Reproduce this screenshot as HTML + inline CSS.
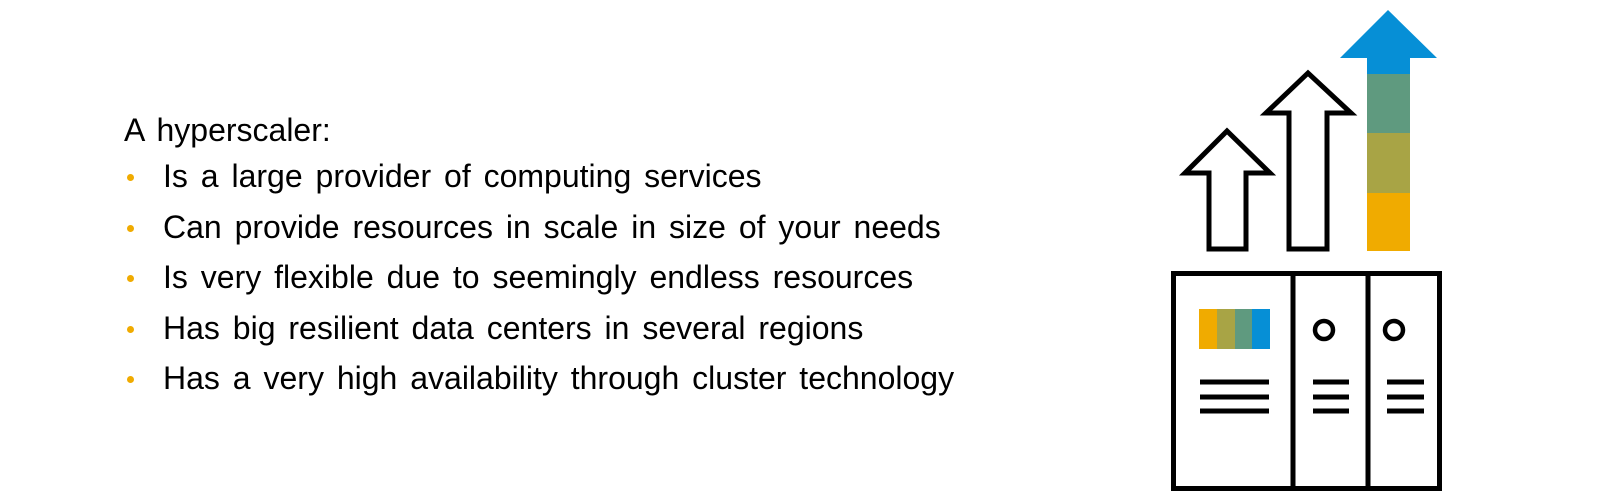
<!DOCTYPE html>
<html><head><meta charset="utf-8"><style>
html,body{margin:0;padding:0;background:#fff;}
body{width:1600px;height:501px;position:relative;overflow:hidden;font-family:"Liberation Sans",Arial,sans-serif;color:#000;}
.t{position:absolute;font-size:32px;white-space:nowrap;line-height:1;word-spacing:4px;}
.b{position:absolute;width:7px;height:7px;border-radius:50%;background:#f0ab00;}
</style></head><body>
<div class="t" style="left:124px;top:114px">A hyperscaler:</div>
<div class="b" style="left:127px;top:174px"></div><div class="t" style="left:163px;top:160px">Is a large provider of computing services</div>
<div class="b" style="left:127px;top:225px"></div><div class="t" style="left:163px;top:211px">Can provide resources in scale in size of your needs</div>
<div class="b" style="left:127px;top:275px"></div><div class="t" style="left:163px;top:261px">Is very flexible due to seemingly endless resources</div>
<div class="b" style="left:127px;top:326px"></div><div class="t" style="left:163px;top:312px">Has big resilient data centers in several regions</div>
<div class="b" style="left:127px;top:376px"></div><div class="t" style="left:163px;top:362px">Has a very high availability through cluster technology</div>
<svg width="1600" height="501" style="position:absolute;left:0;top:0">
<g fill="none" stroke="#000" stroke-width="5" stroke-linejoin="miter">
<polygon points="1227,131 1185,173 1209,173 1209,249 1246,249 1246,173 1270,173"/>
<polygon points="1308,73 1266,113 1289,113 1289,249 1327,249 1327,113 1351,113"/>
<rect x="1173.5" y="273.5" width="266" height="215"/>
<line x1="1293" y1="273" x2="1293" y2="488"/>
<line x1="1368" y1="273" x2="1368" y2="488"/>
<circle cx="1324" cy="330" r="9" stroke-width="4.5"/>
<circle cx="1394" cy="330" r="9" stroke-width="4.5"/>
</g>
<polygon points="1388,10 1340,58 1367,58 1367,75 1410,75 1410,58 1437,58" fill="#068fd6"/>
<rect x="1367" y="74" width="43" height="60" fill="#5f9a7f"/>
<rect x="1367" y="133" width="43" height="61" fill="#a8a445"/>
<rect x="1367" y="193" width="43" height="58" fill="#f0ab00"/>
<rect x="1199" y="309" width="18" height="40" fill="#f0ab00"/>
<rect x="1217" y="309" width="18" height="40" fill="#a8a445"/>
<rect x="1235" y="309" width="18" height="40" fill="#5f9a7f"/>
<rect x="1252" y="309" width="18" height="40" fill="#068fd6"/>
<g fill="#000">
<rect x="1200" y="379.5" width="69" height="5"/><rect x="1200" y="394.5" width="69" height="5"/><rect x="1200" y="408.5" width="69" height="5"/>
<rect x="1313" y="379.5" width="36" height="5"/><rect x="1313" y="394.5" width="36" height="5"/><rect x="1313" y="408.5" width="36" height="5"/>
<rect x="1387" y="379.5" width="37" height="5"/><rect x="1387" y="394.5" width="37" height="5"/><rect x="1387" y="408.5" width="37" height="5"/>
</g>
</svg>
</body></html>
